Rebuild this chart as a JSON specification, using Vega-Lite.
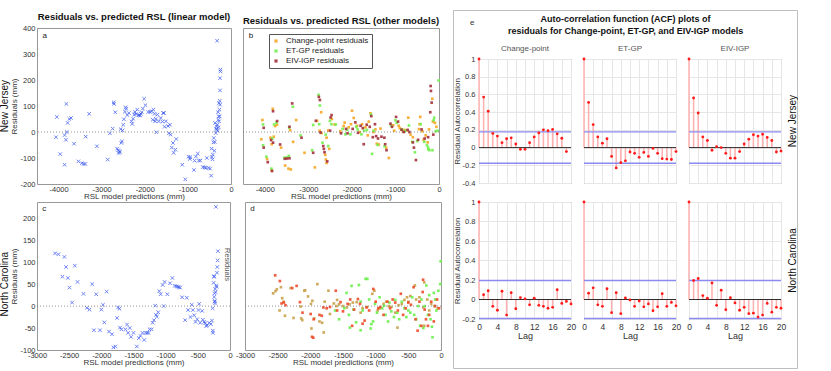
{
"$schema": "https://vega.github.io/schema/vega-lite/v6.json",
"autosize": {"type": "pad"},
"padding": {"left": 0, "top": 9, "right": 0, "bottom": 0},
"config": {
 "font": "Liberation Sans",
 "locale": {"number": {"decimal": ".", "thousands": "", "grouping": [3], "currency": ["$", ""], "minus": "-"}},
 "view": {"stroke": "#999", "strokeWidth": 1},
 "axis": {"labelFontSize": 7.5, "titleFontSize": 8, "labelColor": "#333", "titleColor": "#333", "titleFontWeight": "normal", "domain": false, "ticks": false, "grid": false, "labelPadding": 2, "titlePadding": 1, "labelFlush": false, "labelOverlap": false},
 "axisX": {"labelPadding": 1, "titlePadding": 0},
 "title": {"fontSize": 9.5, "fontWeight": "bold", "color": "#111", "offset": 3},
 "header": {"labelFontSize": 8, "labelColor": "#444"}
},
"datasets": {
 "linNJ": [
{"pred":-4060,"resid":-20},{"pred":-4040,"resid":58},{"pred":-3960,"resid":-85},{"pred":-3860,"resid":-126},{"pred":-3860,"resid":-12},{"pred":-3820,"resid":108},{"pred":-3830,"resid":-30},{"pred":-3810,"resid":0},{"pred":-3790,"resid":35},{"pred":-3750,"resid":50},{"pred":-3710,"resid":54},{"pred":-3640,"resid":-45},{"pred":-3540,"resid":-113},{"pred":-3460,"resid":-120},{"pred":-3420,"resid":-123},{"pred":-3380,"resid":-123},{"pred":-3370,"resid":-18},{"pred":-3290,"resid":70},{"pred":-3110,"resid":-55},{"pred":-2860,"resid":-106},{"pred":-2810,"resid":-5},{"pred":-2745,"resid":13},{"pred":-2720,"resid":114},{"pred":-2715,"resid":108},{"pred":-2685,"resid":76},{"pred":-2640,"resid":-64},{"pred":-2615,"resid":-70},{"pred":-2607,"resid":-81},{"pred":-2590,"resid":-74},{"pred":-2575,"resid":-78},{"pred":-2560,"resid":11},{"pred":-2545,"resid":-42},{"pred":-2530,"resid":-36},{"pred":-2515,"resid":6},{"pred":-2500,"resid":28},{"pred":-2485,"resid":49},{"pred":-2460,"resid":78},{"pred":-2445,"resid":95},{"pred":-2430,"resid":90},{"pred":-2405,"resid":65},{"pred":-2370,"resid":73},{"pred":-2307,"resid":41},{"pred":-2290,"resid":31},{"pred":-2270,"resid":51},{"pred":-2245,"resid":67},{"pred":-2230,"resid":77},{"pred":-2210,"resid":69},{"pred":-2175,"resid":86},{"pred":-2150,"resid":64},{"pred":-2130,"resid":65},{"pred":-2107,"resid":64},{"pred":-2090,"resid":70},{"pred":-2070,"resid":76},{"pred":-2045,"resid":90},{"pred":-2015,"resid":128},{"pred":-1985,"resid":103},{"pred":-1920,"resid":77},{"pred":-1875,"resid":77},{"pred":-1840,"resid":80},{"pred":-1815,"resid":47},{"pred":-1800,"resid":86},{"pred":-1775,"resid":70},{"pred":-1760,"resid":41},{"pred":-1745,"resid":50},{"pred":-1730,"resid":-1},{"pred":-1707,"resid":67},{"pred":-1675,"resid":41},{"pred":-1630,"resid":54},{"pred":-1590,"resid":40},{"pred":-1575,"resid":73},{"pred":-1555,"resid":73},{"pred":-1540,"resid":20},{"pred":-1510,"resid":41},{"pred":-1460,"resid":23},{"pred":-1440,"resid":-5},{"pred":-1415,"resid":28},{"pred":-1400,"resid":-10},{"pred":-1375,"resid":-60},{"pred":-1345,"resid":-42},{"pred":-1330,"resid":-80},{"pred":-1290,"resid":-68},{"pred":-1270,"resid":-27},{"pred":-1130,"resid":-126},{"pred":-1060,"resid":-182},{"pred":-985,"resid":-95},{"pred":-955,"resid":-104},{"pred":-945,"resid":-97},{"pred":-860,"resid":-146},{"pred":-845,"resid":-110},{"pred":-815,"resid":-94},{"pred":-770,"resid":-83},{"pred":-745,"resid":-110},{"pred":-710,"resid":-110},{"pred":-655,"resid":-135},{"pred":-615,"resid":-136},{"pred":-585,"resid":-138},{"pred":-560,"resid":-100},{"pred":-523,"resid":-138},{"pred":-485,"resid":-141},{"pred":-460,"resid":-168},{"pred":-453,"resid":-64},{"pred":-445,"resid":-96},{"pred":-430,"resid":-105},{"pred":-422,"resid":-87},{"pred":-407,"resid":-40},{"pred":-400,"resid":-23},{"pred":-385,"resid":-72},{"pred":-377,"resid":-38},{"pred":-370,"resid":35},{"pred":-354,"resid":-4},{"pred":-346,"resid":13},{"pred":-338,"resid":22},{"pred":-330,"resid":9},{"pred":-323,"resid":351},{"pred":-315,"resid":28},{"pred":-308,"resid":5},{"pred":-300,"resid":76},{"pred":-292,"resid":47},{"pred":-285,"resid":60},{"pred":-277,"resid":111},{"pred":-269,"resid":86},{"pred":-262,"resid":120},{"pred":-254,"resid":105},{"pred":-254,"resid":160},{"pred":-246,"resid":240},{"pred":-246,"resid":233},{"pred":-254,"resid":207},{"pred":-262,"resid":60},{"pred":-277,"resid":41},{"pred":-285,"resid":18}
 ],
 "linNC": [
{"pred":-2720,"resid":120},{"pred":-2667,"resid":118},{"pred":-2605,"resid":67},{"pred":-2574,"resid":112},{"pred":-2548,"resid":89},{"pred":-2521,"resid":64},{"pred":-2495,"resid":42},{"pred":-2454,"resid":8},{"pred":-2412,"resid":92},{"pred":-2370,"resid":55},{"pred":-2277,"resid":28},{"pred":-2225,"resid":-4},{"pred":-2183,"resid":-8},{"pred":-2141,"resid":50},{"pred":-2115,"resid":-55},{"pred":-2079,"resid":27},{"pred":-2021,"resid":-55},{"pred":-2000,"resid":-8},{"pred":-1974,"resid":3},{"pred":-1953,"resid":-37},{"pred":-1917,"resid":33},{"pred":-1881,"resid":-58},{"pred":-1834,"resid":-64},{"pred":-1813,"resid":-94},{"pred":-1782,"resid":-92},{"pred":-1755,"resid":-27},{"pred":-1740,"resid":-3},{"pred":-1719,"resid":-6},{"pred":-1709,"resid":-49},{"pred":-1688,"resid":-53},{"pred":-1625,"resid":-53},{"pred":-1600,"resid":-42},{"pred":-1584,"resid":-61},{"pred":-1558,"resid":-50},{"pred":-1537,"resid":-70},{"pred":-1500,"resid":-61},{"pred":-1448,"resid":-92},{"pred":-1417,"resid":-73},{"pred":-1391,"resid":-68},{"pred":-1360,"resid":-61},{"pred":-1333,"resid":-77},{"pred":-1313,"resid":-61},{"pred":-1287,"resid":-61},{"pred":-1266,"resid":-61},{"pred":-1250,"resid":-53},{"pred":-1219,"resid":-53},{"pred":-1203,"resid":-38},{"pred":-1183,"resid":-32},{"pred":-1162,"resid":1},{"pred":-1151,"resid":-20},{"pred":-1136,"resid":-24},{"pred":-1115,"resid":-14},{"pred":-1099,"resid":34},{"pred":-1078,"resid":27},{"pred":-1047,"resid":48},{"pred":-1031,"resid":0},{"pred":-1016,"resid":55},{"pred":-974,"resid":27},{"pred":-932,"resid":52},{"pred":-896,"resid":64},{"pred":-860,"resid":46},{"pred":-833,"resid":45},{"pred":-813,"resid":44},{"pred":-792,"resid":43},{"pred":-776,"resid":42},{"pred":-745,"resid":20},{"pred":-698,"resid":-32},{"pred":-672,"resid":19},{"pred":-651,"resid":-9},{"pred":-615,"resid":-25},{"pred":-594,"resid":3},{"pred":-578,"resid":-9},{"pred":-557,"resid":-21},{"pred":-536,"resid":-36},{"pred":-510,"resid":-30},{"pred":-490,"resid":-9},{"pred":-479,"resid":5},{"pred":-464,"resid":-38},{"pred":-432,"resid":-11},{"pred":-422,"resid":-31},{"pred":-401,"resid":-36},{"pred":-385,"resid":-39},{"pred":-370,"resid":-45},{"pred":-354,"resid":-44},{"pred":-323,"resid":-38},{"pred":-297,"resid":-41},{"pred":-281,"resid":-33},{"pred":-271,"resid":-5},{"pred":-266,"resid":-56},{"pred":-266,"resid":-61},{"pred":-255,"resid":53},{"pred":-250,"resid":67},{"pred":-245,"resid":21},{"pred":-240,"resid":29},{"pred":-234,"resid":12},{"pred":-234,"resid":6},{"pred":-229,"resid":39},{"pred":-224,"resid":32},{"pred":-219,"resid":226},{"pred":-214,"resid":47},{"pred":-208,"resid":44},{"pred":-203,"resid":76},{"pred":-198,"resid":89},{"pred":-193,"resid":104},{"pred":-188,"resid":125},{"pred":-245,"resid":68},{"pred":-240,"resid":10}
 ],
 "othNJ": [
{"model":"Change-point residuals","pred":-4055,"resid":46},{"model":"Change-point residuals","pred":-4078,"resid":-28},{"model":"Change-point residuals","pred":-3948,"resid":-104},{"model":"Change-point residuals","pred":-3840,"resid":-148},{"model":"Change-point residuals","pred":-3870,"resid":-22},{"model":"Change-point residuals","pred":-3840,"resid":-47},{"model":"Change-point residuals","pred":-3794,"resid":-18},{"model":"Change-point residuals","pred":-3817,"resid":89},{"model":"Change-point residuals","pred":-3763,"resid":23},{"model":"Change-point residuals","pred":-3720,"resid":28},{"model":"Change-point residuals","pred":-3625,"resid":-60},{"model":"Change-point residuals","pred":-3533,"resid":-129},{"model":"Change-point residuals","pred":-3456,"resid":-141},{"model":"Change-point residuals","pred":-3402,"resid":-144},{"model":"Change-point residuals","pred":-3418,"resid":7},{"model":"Change-point residuals","pred":-3348,"resid":-38},{"model":"Change-point residuals","pred":-3279,"resid":46},{"model":"Change-point residuals","pred":-3088,"resid":-80},{"model":"Change-point residuals","pred":-2850,"resid":-136},{"model":"Change-point residuals","pred":-2800,"resid":43},{"model":"Change-point residuals","pred":-2705,"resid":76},{"model":"Change-point residuals","pred":-2740,"resid":5},{"model":"Change-point residuals","pred":-2697,"resid":-4},{"model":"Change-point residuals","pred":-2612,"resid":-88},{"model":"Change-point residuals","pred":-2597,"resid":-106},{"model":"Change-point residuals","pred":-2582,"resid":-119},{"model":"Change-point residuals","pred":-2582,"resid":-22},{"model":"Change-point residuals","pred":-2520,"resid":-65},{"model":"Change-point residuals","pred":-2460,"resid":50},{"model":"Change-point residuals","pred":-2397,"resid":29},{"model":"Change-point residuals","pred":-2543,"resid":6},{"model":"Change-point residuals","pred":-2266,"resid":3},{"model":"Change-point residuals","pred":-2189,"resid":23},{"model":"Change-point residuals","pred":-2166,"resid":36},{"model":"Change-point residuals","pred":-2074,"resid":18},{"model":"Change-point residuals","pred":-2020,"resid":30},{"model":"Change-point residuals","pred":-1997,"resid":82},{"model":"Change-point residuals","pred":-1958,"resid":54},{"model":"Change-point residuals","pred":-1882,"resid":24},{"model":"Change-point residuals","pred":-1820,"resid":0},{"model":"Change-point residuals","pred":-1766,"resid":30},{"model":"Change-point residuals","pred":-1689,"resid":18},{"model":"Change-point residuals","pred":-1636,"resid":-13},{"model":"Change-point residuals","pred":-1612,"resid":40},{"model":"Change-point residuals","pred":-1574,"resid":72},{"model":"Change-point residuals","pred":-1505,"resid":0},{"model":"Change-point residuals","pred":-1460,"resid":10},{"model":"Change-point residuals","pred":-1428,"resid":-45},{"model":"Change-point residuals","pred":-1382,"resid":-48},{"model":"Change-point residuals","pred":-1344,"resid":13},{"model":"Change-point residuals","pred":-1213,"resid":-60},{"model":"Change-point residuals","pred":-1152,"resid":-100},{"model":"Change-point residuals","pred":-1052,"resid":26},{"model":"Change-point residuals","pred":-1030,"resid":5},{"model":"Change-point residuals","pred":-925,"resid":24},{"model":"Change-point residuals","pred":-900,"resid":15},{"model":"Change-point residuals","pred":-830,"resid":2},{"model":"Change-point residuals","pred":-795,"resid":8},{"model":"Change-point residuals","pred":-745,"resid":6},{"model":"Change-point residuals","pred":-706,"resid":55},{"model":"Change-point residuals","pred":-653,"resid":-10},{"model":"Change-point residuals","pred":-600,"resid":-20},{"model":"Change-point residuals","pred":-461,"resid":11},{"model":"Change-point residuals","pred":-445,"resid":30},{"model":"Change-point residuals","pred":-430,"resid":58},{"model":"Change-point residuals","pred":-384,"resid":3},{"model":"Change-point residuals","pred":-353,"resid":-30},{"model":"Change-point residuals","pred":-307,"resid":-13},{"model":"Change-point residuals","pred":-260,"resid":-40},{"model":"Change-point residuals","pred":-230,"resid":10},{"model":"Change-point residuals","pred":-154,"resid":128},{"model":"Change-point residuals","pred":-140,"resid":40},{"model":"Change-point residuals","pred":-93,"resid":35},{"model":"Change-point residuals","pred":-60,"resid":20},
{"model":"ET-GP residuals","pred":-4040,"resid":29},{"model":"ET-GP residuals","pred":-4040,"resid":-51},{"model":"ET-GP residuals","pred":-3963,"resid":-95},{"model":"ET-GP residuals","pred":-3848,"resid":-141},{"model":"ET-GP residuals","pred":-3825,"resid":-25},{"model":"ET-GP residuals","pred":-3786,"resid":29},{"model":"ET-GP residuals","pred":-3733,"resid":36},{"model":"ET-GP residuals","pred":-3548,"resid":-99},{"model":"ET-GP residuals","pred":-3502,"resid":-98},{"model":"ET-GP residuals","pred":-3448,"resid":-92},{"model":"ET-GP residuals","pred":-3440,"resid":17},{"model":"ET-GP residuals","pred":-3356,"resid":97},{"model":"ET-GP residuals","pred":-3180,"resid":-13},{"model":"ET-GP residuals","pred":-2912,"resid":-70},{"model":"ET-GP residuals","pred":-2889,"resid":27},{"model":"ET-GP residuals","pred":-2766,"resid":143},{"model":"ET-GP residuals","pred":-2735,"resid":102},{"model":"ET-GP residuals","pred":-2750,"resid":30},{"model":"ET-GP residuals","pred":-2674,"resid":-41},{"model":"ET-GP residuals","pred":-2600,"resid":-10},{"model":"ET-GP residuals","pred":-2543,"resid":-54},{"model":"ET-GP residuals","pred":-2505,"resid":43},{"model":"ET-GP residuals","pred":-2470,"resid":30},{"model":"ET-GP residuals","pred":-2370,"resid":29},{"model":"ET-GP residuals","pred":-2212,"resid":12},{"model":"ET-GP residuals","pred":-2150,"resid":-9},{"model":"ET-GP residuals","pred":-2110,"resid":8},{"model":"ET-GP residuals","pred":-2035,"resid":-9},{"model":"ET-GP residuals","pred":-1900,"resid":20},{"model":"ET-GP residuals","pred":-1870,"resid":10},{"model":"ET-GP residuals","pred":-1781,"resid":-9},{"model":"ET-GP residuals","pred":-1720,"resid":5},{"model":"ET-GP residuals","pred":-1655,"resid":8},{"model":"ET-GP residuals","pred":-1560,"resid":68},{"model":"ET-GP residuals","pred":-1500,"resid":5},{"model":"ET-GP residuals","pred":-1536,"resid":-84},{"model":"ET-GP residuals","pred":-1410,"resid":-50},{"model":"ET-GP residuals","pred":-1250,"resid":-55},{"model":"ET-GP residuals","pred":-1100,"resid":25},{"model":"ET-GP residuals","pred":-1001,"resid":45},{"model":"ET-GP residuals","pred":-970,"resid":35},{"model":"ET-GP residuals","pred":-860,"resid":10},{"model":"ET-GP residuals","pred":-783,"resid":5},{"model":"ET-GP residuals","pred":-690,"resid":25},{"model":"ET-GP residuals","pred":-614,"resid":-38},{"model":"ET-GP residuals","pred":-553,"resid":-78},{"model":"ET-GP residuals","pred":-500,"resid":-35},{"model":"ET-GP residuals","pred":-420,"resid":30},{"model":"ET-GP residuals","pred":-338,"resid":-38},{"model":"ET-GP residuals","pred":-276,"resid":-51},{"model":"ET-GP residuals","pred":-250,"resid":-60},{"model":"ET-GP residuals","pred":-246,"resid":-67},{"model":"ET-GP residuals","pred":-220,"resid":-70},{"model":"ET-GP residuals","pred":-150,"resid":-70},{"model":"ET-GP residuals","pred":-123,"resid":45},{"model":"ET-GP residuals","pred":-110,"resid":55},{"model":"ET-GP residuals","pred":-77,"resid":3},{"model":"ET-GP residuals","pred":-30,"resid":5},{"model":"ET-GP residuals","pred":-10,"resid":198},
{"model":"EIV-IGP residuals","pred":-4025,"resid":16},{"model":"EIV-IGP residuals","pred":-4025,"resid":-60},{"model":"EIV-IGP residuals","pred":-3932,"resid":-116},{"model":"EIV-IGP residuals","pred":-3833,"resid":-150},{"model":"EIV-IGP residuals","pred":-3855,"resid":-31},{"model":"EIV-IGP residuals","pred":-3810,"resid":-41},{"model":"EIV-IGP residuals","pred":-3810,"resid":80},{"model":"EIV-IGP residuals","pred":-3717,"resid":42},{"model":"EIV-IGP residuals","pred":-3648,"resid":-48},{"model":"EIV-IGP residuals","pred":-3540,"resid":-103},{"model":"EIV-IGP residuals","pred":-3487,"resid":-102},{"model":"EIV-IGP residuals","pred":-3433,"resid":-101},{"model":"EIV-IGP residuals","pred":-3433,"resid":20},{"model":"EIV-IGP residuals","pred":-3371,"resid":110},{"model":"EIV-IGP residuals","pred":-3157,"resid":-22},{"model":"EIV-IGP residuals","pred":-2889,"resid":-80},{"model":"EIV-IGP residuals","pred":-2827,"resid":43},{"model":"EIV-IGP residuals","pred":-2758,"resid":135},{"model":"EIV-IGP residuals","pred":-2735,"resid":123},{"model":"EIV-IGP residuals","pred":-2720,"resid":-2},{"model":"EIV-IGP residuals","pred":-2658,"resid":-54},{"model":"EIV-IGP residuals","pred":-2643,"resid":-65},{"model":"EIV-IGP residuals","pred":-2628,"resid":-78},{"model":"EIV-IGP residuals","pred":-2566,"resid":-113},{"model":"EIV-IGP residuals","pred":-2489,"resid":56},{"model":"EIV-IGP residuals","pred":-2466,"resid":65},{"model":"EIV-IGP residuals","pred":-2500,"resid":5},{"model":"EIV-IGP residuals","pred":-2250,"resid":-5},{"model":"EIV-IGP residuals","pred":-2135,"resid":12},{"model":"EIV-IGP residuals","pred":-2100,"resid":-5},{"model":"EIV-IGP residuals","pred":-1982,"resid":12},{"model":"EIV-IGP residuals","pred":-1920,"resid":37},{"model":"EIV-IGP residuals","pred":-1860,"resid":-3},{"model":"EIV-IGP residuals","pred":-1800,"resid":24},{"model":"EIV-IGP residuals","pred":-1750,"resid":15},{"model":"EIV-IGP residuals","pred":-1728,"resid":-47},{"model":"EIV-IGP residuals","pred":-1660,"resid":28},{"model":"EIV-IGP residuals","pred":-1590,"resid":20},{"model":"EIV-IGP residuals","pred":-1555,"resid":61},{"model":"EIV-IGP residuals","pred":-1520,"resid":-20},{"model":"EIV-IGP residuals","pred":-1470,"resid":30},{"model":"EIV-IGP residuals","pred":-1443,"resid":-16},{"model":"EIV-IGP residuals","pred":-1400,"resid":-25},{"model":"EIV-IGP residuals","pred":-1321,"resid":-18},{"model":"EIV-IGP residuals","pred":-1254,"resid":-22},{"model":"EIV-IGP residuals","pred":-1236,"resid":-47},{"model":"EIV-IGP residuals","pred":-1205,"resid":-70},{"model":"EIV-IGP residuals","pred":-1114,"resid":32},{"model":"EIV-IGP residuals","pred":-1080,"resid":20},{"model":"EIV-IGP residuals","pred":-986,"resid":58},{"model":"EIV-IGP residuals","pred":-940,"resid":40},{"model":"EIV-IGP residuals","pred":-860,"resid":9},{"model":"EIV-IGP residuals","pred":-810,"resid":0},{"model":"EIV-IGP residuals","pred":-720,"resid":8},{"model":"EIV-IGP residuals","pred":-680,"resid":0},{"model":"EIV-IGP residuals","pred":-600,"resid":-40},{"model":"EIV-IGP residuals","pred":-576,"resid":-60},{"model":"EIV-IGP residuals","pred":-530,"resid":-108},{"model":"EIV-IGP residuals","pred":-480,"resid":-30},{"model":"EIV-IGP residuals","pred":-400,"resid":10},{"model":"EIV-IGP residuals","pred":-330,"resid":-25},{"model":"EIV-IGP residuals","pred":-250,"resid":-20},{"model":"EIV-IGP residuals","pred":-200,"resid":76},{"model":"EIV-IGP residuals","pred":-192,"resid":177},{"model":"EIV-IGP residuals","pred":-184,"resid":158},{"model":"EIV-IGP residuals","pred":-169,"resid":113},{"model":"EIV-IGP residuals","pred":-130,"resid":-10}
 ],
 "othNC": [
{"model":"Change-point residuals","pred":-2569,"resid":29},{"model":"Change-point residuals","pred":-2533,"resid":34},{"model":"Change-point residuals","pred":-2513,"resid":38},{"model":"Change-point residuals","pred":-2450,"resid":43},{"model":"Change-point residuals","pred":-2430,"resid":18},{"model":"Change-point residuals","pred":-2410,"resid":10},{"model":"Change-point residuals","pred":-2471,"resid":-10},{"model":"Change-point residuals","pred":-2389,"resid":-22},{"model":"Change-point residuals","pred":-2302,"resid":41},{"model":"Change-point residuals","pred":-2257,"resid":-27},{"model":"Change-point residuals","pred":-2148,"resid":-1},{"model":"Change-point residuals","pred":-2123,"resid":-32},{"model":"Change-point residuals","pred":-2140,"resid":-28},{"model":"Change-point residuals","pred":-2092,"resid":35},{"model":"Change-point residuals","pred":-2080,"resid":36},{"model":"Change-point residuals","pred":-2035,"resid":22},{"model":"Change-point residuals","pred":-1990,"resid":5},{"model":"Change-point residuals","pred":-1983,"resid":-51},{"model":"Change-point residuals","pred":-1969,"resid":12},{"model":"Change-point residuals","pred":-1940,"resid":-28},{"model":"Change-point residuals","pred":-1892,"resid":50},{"model":"Change-point residuals","pred":-1860,"resid":-35},{"model":"Change-point residuals","pred":-1820,"resid":-38},{"model":"Change-point residuals","pred":-1795,"resid":-60},{"model":"Change-point residuals","pred":-1780,"resid":10},{"model":"Change-point residuals","pred":-1723,"resid":35},{"model":"Change-point residuals","pred":-1700,"resid":-18},{"model":"Change-point residuals","pred":-1640,"resid":6},{"model":"Change-point residuals","pred":-1600,"resid":0},{"model":"Change-point residuals","pred":-1590,"resid":14},{"model":"Change-point residuals","pred":-1560,"resid":4},{"model":"Change-point residuals","pred":-1500,"resid":0},{"model":"Change-point residuals","pred":-1440,"resid":-3},{"model":"Change-point residuals","pred":-1400,"resid":4},{"model":"Change-point residuals","pred":-1350,"resid":8},{"model":"Change-point residuals","pred":-1290,"resid":9},{"model":"Change-point residuals","pred":-1230,"resid":-15},{"model":"Change-point residuals","pred":-1200,"resid":-5},{"model":"Change-point residuals","pred":-1130,"resid":-2},{"model":"Change-point residuals","pred":-1051,"resid":28},{"model":"Change-point residuals","pred":-1020,"resid":35},{"model":"Change-point residuals","pred":-970,"resid":-10},{"model":"Change-point residuals","pred":-940,"resid":-5},{"model":"Change-point residuals","pred":-880,"resid":5},{"model":"Change-point residuals","pred":-840,"resid":10},{"model":"Change-point residuals","pred":-800,"resid":0},{"model":"Change-point residuals","pred":-760,"resid":-2},{"model":"Change-point residuals","pred":-700,"resid":-15},{"model":"Change-point residuals","pred":-666,"resid":-49},{"model":"Change-point residuals","pred":-650,"resid":2},{"model":"Change-point residuals","pred":-600,"resid":5},{"model":"Change-point residuals","pred":-560,"resid":14},{"model":"Change-point residuals","pred":-520,"resid":20},{"model":"Change-point residuals","pred":-500,"resid":10},{"model":"Change-point residuals","pred":-470,"resid":23},{"model":"Change-point residuals","pred":-400,"resid":47},{"model":"Change-point residuals","pred":-380,"resid":15},{"model":"Change-point residuals","pred":-330,"resid":20},{"model":"Change-point residuals","pred":-270,"resid":-3},{"model":"Change-point residuals","pred":-256,"resid":54},{"model":"Change-point residuals","pred":-256,"resid":-45},{"model":"Change-point residuals","pred":-210,"resid":15},{"model":"Change-point residuals","pred":-180,"resid":-10},{"model":"Change-point residuals","pred":-150,"resid":5},{"model":"Change-point residuals","pred":-100,"resid":0},{"model":"Change-point residuals","pred":-50,"resid":-5},
{"model":"ET-GP residuals","pred":-1620,"resid":-10},{"model":"ET-GP residuals","pred":-1560,"resid":-30},{"model":"ET-GP residuals","pred":-1480,"resid":-5},{"model":"ET-GP residuals","pred":-1446,"resid":30},{"model":"ET-GP residuals","pred":-1410,"resid":-20},{"model":"ET-GP residuals","pred":-1395,"resid":-49},{"model":"ET-GP residuals","pred":-1369,"resid":46},{"model":"ET-GP residuals","pred":-1340,"resid":-8},{"model":"ET-GP residuals","pred":-1300,"resid":-37},{"model":"ET-GP residuals","pred":-1256,"resid":48},{"model":"ET-GP residuals","pred":-1231,"resid":-55},{"model":"ET-GP residuals","pred":-1230,"resid":10},{"model":"ET-GP residuals","pred":-1200,"resid":-10},{"model":"ET-GP residuals","pred":-1154,"resid":62},{"model":"ET-GP residuals","pred":-1128,"resid":62},{"model":"ET-GP residuals","pred":-1100,"resid":15},{"model":"ET-GP residuals","pred":-1077,"resid":-51},{"model":"ET-GP residuals","pred":-1066,"resid":-41},{"model":"ET-GP residuals","pred":-1040,"resid":-35},{"model":"ET-GP residuals","pred":-1010,"resid":5},{"model":"ET-GP residuals","pred":-980,"resid":-15},{"model":"ET-GP residuals","pred":-940,"resid":20},{"model":"ET-GP residuals","pred":-900,"resid":-5},{"model":"ET-GP residuals","pred":-872,"resid":1},{"model":"ET-GP residuals","pred":-850,"resid":-20},{"model":"ET-GP residuals","pred":-810,"resid":-35},{"model":"ET-GP residuals","pred":-790,"resid":8},{"model":"ET-GP residuals","pred":-760,"resid":-12},{"model":"ET-GP residuals","pred":-720,"resid":-25},{"model":"ET-GP residuals","pred":-700,"resid":14},{"model":"ET-GP residuals","pred":-670,"resid":-15},{"model":"ET-GP residuals","pred":-640,"resid":-30},{"model":"ET-GP residuals","pred":-600,"resid":10},{"model":"ET-GP residuals","pred":-560,"resid":-5},{"model":"ET-GP residuals","pred":-530,"resid":-25},{"model":"ET-GP residuals","pred":-500,"resid":-10},{"model":"ET-GP residuals","pred":-470,"resid":-15},{"model":"ET-GP residuals","pred":-440,"resid":20},{"model":"ET-GP residuals","pred":-410,"resid":-20},{"model":"ET-GP residuals","pred":-380,"resid":-30},{"model":"ET-GP residuals","pred":-350,"resid":0},{"model":"ET-GP residuals","pred":-320,"resid":-45},{"model":"ET-GP residuals","pred":-300,"resid":15},{"model":"ET-GP residuals","pred":-270,"resid":-50},{"model":"ET-GP residuals","pred":-250,"resid":0},{"model":"ET-GP residuals","pred":-225,"resid":47},{"model":"ET-GP residuals","pred":-200,"resid":-20},{"model":"ET-GP residuals","pred":-180,"resid":25},{"model":"ET-GP residuals","pred":-160,"resid":-30},{"model":"ET-GP residuals","pred":-138,"resid":-47},{"model":"ET-GP residuals","pred":-130,"resid":-71},{"model":"ET-GP residuals","pred":-110,"resid":30},{"model":"ET-GP residuals","pred":-90,"resid":15},{"model":"ET-GP residuals","pred":-70,"resid":-10},{"model":"ET-GP residuals","pred":-40,"resid":35},{"model":"ET-GP residuals","pred":-12,"resid":50},{"model":"ET-GP residuals","pred":-5,"resid":102},
{"model":"EIV-IGP residuals","pred":-2538,"resid":70},{"model":"EIV-IGP residuals","pred":-2466,"resid":57},{"model":"EIV-IGP residuals","pred":-2440,"resid":6},{"model":"EIV-IGP residuals","pred":-2405,"resid":8},{"model":"EIV-IGP residuals","pred":-2380,"resid":2},{"model":"EIV-IGP residuals","pred":-2277,"resid":41},{"model":"EIV-IGP residuals","pred":-2210,"resid":46},{"model":"EIV-IGP residuals","pred":-2159,"resid":9},{"model":"EIV-IGP residuals","pred":-2120,"resid":-15},{"model":"EIV-IGP residuals","pred":-1995,"resid":-18},{"model":"EIV-IGP residuals","pred":-1974,"resid":-70},{"model":"EIV-IGP residuals","pred":-1955,"resid":-72},{"model":"EIV-IGP residuals","pred":-1949,"resid":-30},{"model":"EIV-IGP residuals","pred":-1860,"resid":-20},{"model":"EIV-IGP residuals","pred":-1825,"resid":-22},{"model":"EIV-IGP residuals","pred":-1800,"resid":-3},{"model":"EIV-IGP residuals","pred":-1750,"resid":-5},{"model":"EIV-IGP residuals","pred":-1700,"resid":-2},{"model":"EIV-IGP residuals","pred":-1610,"resid":35},{"model":"EIV-IGP residuals","pred":-1590,"resid":-10},{"model":"EIV-IGP residuals","pred":-1538,"resid":9},{"model":"EIV-IGP residuals","pred":-1500,"resid":-12},{"model":"EIV-IGP residuals","pred":-1430,"resid":5},{"model":"EIV-IGP residuals","pred":-1390,"resid":15},{"model":"EIV-IGP residuals","pred":-1360,"resid":-45},{"model":"EIV-IGP residuals","pred":-1330,"resid":-8},{"model":"EIV-IGP residuals","pred":-1272,"resid":16},{"model":"EIV-IGP residuals","pred":-1240,"resid":5},{"model":"EIV-IGP residuals","pred":-1200,"resid":-40},{"model":"EIV-IGP residuals","pred":-1169,"resid":-33},{"model":"EIV-IGP residuals","pred":-1140,"resid":-3},{"model":"EIV-IGP residuals","pred":-1100,"resid":-10},{"model":"EIV-IGP residuals","pred":-1036,"resid":39},{"model":"EIV-IGP residuals","pred":-1000,"resid":10},{"model":"EIV-IGP residuals","pred":-960,"resid":-5},{"model":"EIV-IGP residuals","pred":-930,"resid":-2},{"model":"EIV-IGP residuals","pred":-880,"resid":-20},{"model":"EIV-IGP residuals","pred":-820,"resid":10},{"model":"EIV-IGP residuals","pred":-780,"resid":-5},{"model":"EIV-IGP residuals","pred":-740,"resid":15},{"model":"EIV-IGP residuals","pred":-700,"resid":8},{"model":"EIV-IGP residuals","pred":-660,"resid":-10},{"model":"EIV-IGP residuals","pred":-615,"resid":28},{"model":"EIV-IGP residuals","pred":-580,"resid":-20},{"model":"EIV-IGP residuals","pred":-540,"resid":-5},{"model":"EIV-IGP residuals","pred":-500,"resid":8},{"model":"EIV-IGP residuals","pred":-460,"resid":3},{"model":"EIV-IGP residuals","pred":-419,"resid":43},{"model":"EIV-IGP residuals","pred":-390,"resid":-30},{"model":"EIV-IGP residuals","pred":-358,"resid":-56},{"model":"EIV-IGP residuals","pred":-330,"resid":10},{"model":"EIV-IGP residuals","pred":-300,"resid":-45},{"model":"EIV-IGP residuals","pred":-280,"resid":32},{"model":"EIV-IGP residuals","pred":-274,"resid":60},{"model":"EIV-IGP residuals","pred":-250,"resid":-8},{"model":"EIV-IGP residuals","pred":-230,"resid":-30},{"model":"EIV-IGP residuals","pred":-200,"resid":-45},{"model":"EIV-IGP residuals","pred":-180,"resid":-20},{"model":"EIV-IGP residuals","pred":-150,"resid":10},{"model":"EIV-IGP residuals","pred":-110,"resid":-35},{"model":"EIV-IGP residuals","pred":-90,"resid":0},{"model":"EIV-IGP residuals","pred":-60,"resid":15},{"model":"EIV-IGP residuals","pred":-30,"resid":-5}
 ],
 "acfNJ": [
{"state":"New Jersey","model":"Change-point","lag":0,"acf":1},{"state":"New Jersey","model":"Change-point","lag":1,"acf":0.57},{"state":"New Jersey","model":"Change-point","lag":2,"acf":0.41},{"state":"New Jersey","model":"Change-point","lag":3,"acf":0.16},{"state":"New Jersey","model":"Change-point","lag":4,"acf":0.13},{"state":"New Jersey","model":"Change-point","lag":5,"acf":0.055},{"state":"New Jersey","model":"Change-point","lag":6,"acf":0.1},{"state":"New Jersey","model":"Change-point","lag":7,"acf":0.11},{"state":"New Jersey","model":"Change-point","lag":8,"acf":0.04},{"state":"New Jersey","model":"Change-point","lag":9,"acf":-0.02},{"state":"New Jersey","model":"Change-point","lag":10,"acf":-0.02},{"state":"New Jersey","model":"Change-point","lag":11,"acf":0.055},{"state":"New Jersey","model":"Change-point","lag":12,"acf":0.12},{"state":"New Jersey","model":"Change-point","lag":13,"acf":0.165},{"state":"New Jersey","model":"Change-point","lag":14,"acf":0.2},{"state":"New Jersey","model":"Change-point","lag":15,"acf":0.19},{"state":"New Jersey","model":"Change-point","lag":16,"acf":0.205},{"state":"New Jersey","model":"Change-point","lag":17,"acf":0.155},{"state":"New Jersey","model":"Change-point","lag":18,"acf":0.105},{"state":"New Jersey","model":"Change-point","lag":19,"acf":-0.045},
{"state":"New Jersey","model":"ET-GP","lag":0,"acf":1},{"state":"New Jersey","model":"ET-GP","lag":1,"acf":0.51},{"state":"New Jersey","model":"ET-GP","lag":2,"acf":0.26},{"state":"New Jersey","model":"ET-GP","lag":3,"acf":0.12},{"state":"New Jersey","model":"ET-GP","lag":4,"acf":0.05},{"state":"New Jersey","model":"ET-GP","lag":5,"acf":0.1},{"state":"New Jersey","model":"ET-GP","lag":6,"acf":-0.1},{"state":"New Jersey","model":"ET-GP","lag":7,"acf":-0.23},{"state":"New Jersey","model":"ET-GP","lag":8,"acf":-0.17},{"state":"New Jersey","model":"ET-GP","lag":9,"acf":-0.15},{"state":"New Jersey","model":"ET-GP","lag":10,"acf":-0.05},{"state":"New Jersey","model":"ET-GP","lag":11,"acf":-0.065},{"state":"New Jersey","model":"ET-GP","lag":12,"acf":-0.11},{"state":"New Jersey","model":"ET-GP","lag":13,"acf":-0.055},{"state":"New Jersey","model":"ET-GP","lag":14,"acf":-0.1},{"state":"New Jersey","model":"ET-GP","lag":15,"acf":-0.01},{"state":"New Jersey","model":"ET-GP","lag":16,"acf":-0.065},{"state":"New Jersey","model":"ET-GP","lag":17,"acf":-0.125},{"state":"New Jersey","model":"ET-GP","lag":18,"acf":-0.13},{"state":"New Jersey","model":"ET-GP","lag":19,"acf":-0.135},{"state":"New Jersey","model":"ET-GP","lag":20,"acf":-0.045},
{"state":"New Jersey","model":"EIV-IGP","lag":0,"acf":1},{"state":"New Jersey","model":"EIV-IGP","lag":1,"acf":0.56},{"state":"New Jersey","model":"EIV-IGP","lag":2,"acf":0.39},{"state":"New Jersey","model":"EIV-IGP","lag":3,"acf":0.12},{"state":"New Jersey","model":"EIV-IGP","lag":4,"acf":0.08},{"state":"New Jersey","model":"EIV-IGP","lag":5,"acf":-0.03},{"state":"New Jersey","model":"EIV-IGP","lag":6,"acf":0.01},{"state":"New Jersey","model":"EIV-IGP","lag":7,"acf":0.0},{"state":"New Jersey","model":"EIV-IGP","lag":8,"acf":-0.065},{"state":"New Jersey","model":"EIV-IGP","lag":9,"acf":-0.12},{"state":"New Jersey","model":"EIV-IGP","lag":10,"acf":-0.12},{"state":"New Jersey","model":"EIV-IGP","lag":11,"acf":-0.045},{"state":"New Jersey","model":"EIV-IGP","lag":12,"acf":0.04},{"state":"New Jersey","model":"EIV-IGP","lag":13,"acf":0.095},{"state":"New Jersey","model":"EIV-IGP","lag":14,"acf":0.145},{"state":"New Jersey","model":"EIV-IGP","lag":15,"acf":0.13},{"state":"New Jersey","model":"EIV-IGP","lag":16,"acf":0.15},{"state":"New Jersey","model":"EIV-IGP","lag":17,"acf":0.115},{"state":"New Jersey","model":"EIV-IGP","lag":18,"acf":0.08},{"state":"New Jersey","model":"EIV-IGP","lag":19,"acf":-0.05},{"state":"New Jersey","model":"EIV-IGP","lag":20,"acf":-0.04}
 ],
 "acfNC": [
{"state":"North Carolina","model":"Change-point","lag":0,"acf":1},{"state":"North Carolina","model":"Change-point","lag":1,"acf":0.05},{"state":"North Carolina","model":"Change-point","lag":2,"acf":0.09},{"state":"North Carolina","model":"Change-point","lag":3,"acf":-0.07},{"state":"North Carolina","model":"Change-point","lag":4,"acf":-0.11},{"state":"North Carolina","model":"Change-point","lag":5,"acf":0.085},{"state":"North Carolina","model":"Change-point","lag":6,"acf":-0.16},{"state":"North Carolina","model":"Change-point","lag":7,"acf":0.07},{"state":"North Carolina","model":"Change-point","lag":8,"acf":-0.095},{"state":"North Carolina","model":"Change-point","lag":9,"acf":0.02},{"state":"North Carolina","model":"Change-point","lag":10,"acf":0.007},{"state":"North Carolina","model":"Change-point","lag":11,"acf":-0.055},{"state":"North Carolina","model":"Change-point","lag":12,"acf":0.014},{"state":"North Carolina","model":"Change-point","lag":13,"acf":-0.06},{"state":"North Carolina","model":"Change-point","lag":14,"acf":-0.07},{"state":"North Carolina","model":"Change-point","lag":15,"acf":-0.09},{"state":"North Carolina","model":"Change-point","lag":16,"acf":-0.08},{"state":"North Carolina","model":"Change-point","lag":17,"acf":0.1},{"state":"North Carolina","model":"Change-point","lag":18,"acf":-0.04},{"state":"North Carolina","model":"Change-point","lag":19,"acf":-0.02},{"state":"North Carolina","model":"Change-point","lag":20,"acf":-0.045},
{"state":"North Carolina","model":"ET-GP","lag":0,"acf":1},{"state":"North Carolina","model":"ET-GP","lag":1,"acf":0.065},{"state":"North Carolina","model":"ET-GP","lag":2,"acf":0.12},{"state":"North Carolina","model":"ET-GP","lag":3,"acf":-0.055},{"state":"North Carolina","model":"ET-GP","lag":4,"acf":-0.07},{"state":"North Carolina","model":"ET-GP","lag":5,"acf":0.11},{"state":"North Carolina","model":"ET-GP","lag":6,"acf":-0.135},{"state":"North Carolina","model":"ET-GP","lag":7,"acf":0.07},{"state":"North Carolina","model":"ET-GP","lag":8,"acf":-0.145},{"state":"North Carolina","model":"ET-GP","lag":9,"acf":0.015},{"state":"North Carolina","model":"ET-GP","lag":10,"acf":-0.005},{"state":"North Carolina","model":"ET-GP","lag":11,"acf":-0.07},{"state":"North Carolina","model":"ET-GP","lag":12,"acf":-0.015},{"state":"North Carolina","model":"ET-GP","lag":13,"acf":-0.075},{"state":"North Carolina","model":"ET-GP","lag":14,"acf":-0.045},{"state":"North Carolina","model":"ET-GP","lag":15,"acf":-0.115},{"state":"North Carolina","model":"ET-GP","lag":16,"acf":-0.075},{"state":"North Carolina","model":"ET-GP","lag":17,"acf":0.06},{"state":"North Carolina","model":"ET-GP","lag":18,"acf":-0.07},{"state":"North Carolina","model":"ET-GP","lag":19,"acf":-0.03},{"state":"North Carolina","model":"ET-GP","lag":20,"acf":-0.065},
{"state":"North Carolina","model":"EIV-IGP","lag":0,"acf":1},{"state":"North Carolina","model":"EIV-IGP","lag":1,"acf":0.195},{"state":"North Carolina","model":"EIV-IGP","lag":2,"acf":0.215},{"state":"North Carolina","model":"EIV-IGP","lag":3,"acf":0.04},{"state":"North Carolina","model":"EIV-IGP","lag":4,"acf":0.013},{"state":"North Carolina","model":"EIV-IGP","lag":5,"acf":0.17},{"state":"North Carolina","model":"EIV-IGP","lag":6,"acf":-0.06},{"state":"North Carolina","model":"EIV-IGP","lag":7,"acf":0.095},{"state":"North Carolina","model":"EIV-IGP","lag":8,"acf":-0.105},{"state":"North Carolina","model":"EIV-IGP","lag":9,"acf":0.018},{"state":"North Carolina","model":"EIV-IGP","lag":10,"acf":-0.035},{"state":"North Carolina","model":"EIV-IGP","lag":11,"acf":-0.11},{"state":"North Carolina","model":"EIV-IGP","lag":12,"acf":-0.08},{"state":"North Carolina","model":"EIV-IGP","lag":13,"acf":-0.145},{"state":"North Carolina","model":"EIV-IGP","lag":14,"acf":-0.14},{"state":"North Carolina","model":"EIV-IGP","lag":15,"acf":-0.18},{"state":"North Carolina","model":"EIV-IGP","lag":16,"acf":-0.16},{"state":"North Carolina","model":"EIV-IGP","lag":17,"acf":-0.04},{"state":"North Carolina","model":"EIV-IGP","lag":18,"acf":-0.13},{"state":"North Carolina","model":"EIV-IGP","lag":19,"acf":-0.08},{"state":"North Carolina","model":"EIV-IGP","lag":20,"acf":-0.09}
 ]
},
"resolve": {"scale": {"color": "independent"}, "legend": {"color": "independent"}},
"spacing": 8,
"hconcat": [
 {
  "resolve": {"scale": {"color": "independent"}, "legend": {"color": "independent"}},
  "spacing": 0,
  "vconcat": [
   {"width": 1, "height": 1, "view": {"stroke": null}, "data": {"values": []}, "mark": {"type": "rule"}, "encoding": {}},
   {
    "title": {"text": "New Jersey", "orient": "left", "anchor": "middle", "fontSize": 10, "fontWeight": "normal", "color": "#111", "offset": 0},
    "resolve": {"scale": {"color": "independent"}, "legend": {"color": "independent"}},
    "spacing": 8,
    "hconcat": [
     {
      "width": 194, "height": 156,
      "title": "Residuals vs. predicted RSL (linear model)",
      "resolve": {"axis": {"x": "independent", "y": "independent"}},
      "layer": [
       {"data": {"name": "linNJ"}, "mark": {"type": "point", "shape": "M-1,-1L1,1M1,-1L-1,1", "filled": false, "color": "#3050f0", "strokeWidth": 1, "size": 12},
        "encoding": {
         "x": {"field": "pred", "type": "quantitative", "scale": {"domain": [-4500, 0], "nice": false}, "axis": {"title": "RSL model predictions (mm)", "values": [-4000, -3000, -2000, -1000, 0], "format": "d"}},
         "y": {"field": "resid", "type": "quantitative", "scale": {"domain": [-200, 400], "nice": false}, "axis": {"title": "Residuals (mm)", "values": [-200, -100, 0, 100, 200, 300, 400], "format": "d"}}
        }},
       {"data": {"values": [{"zero": 0}]}, "mark": {"type": "rule", "color": "#777", "strokeDash": [1, 2], "strokeWidth": 0.8}, "encoding": {"y": {"field": "zero", "type": "quantitative", "axis": null}}},
       {"data": {"values": [{"label": "a"}]}, "mark": {"type": "text", "fontSize": 8, "color": "#222", "align": "left"}, "encoding": {"text": {"field": "label"}, "x": {"datum": -4370, "axis": null}, "y": {"datum": 370, "axis": null}}}
      ]
     },
     {
      "width": 196, "height": 156,
      "title": "Residuals vs. predicted RSL (other models)",
      "resolve": {"axis": {"x": "independent", "y": "independent"}},
      "layer": [
       {"data": {"name": "othNJ"}, "mark": {"type": "point", "shape": "square", "filled": true, "size": 7, "opacity": 0.9},
        "encoding": {
         "x": {"field": "pred", "type": "quantitative", "scale": {"domain": [-4500, 0], "nice": false}, "axis": {"title": "RSL model predictions (mm)", "values": [-4000, -3000, -2000, -1000, 0], "format": "d"}},
         "y": {"field": "resid", "type": "quantitative", "scale": {"domain": [-200, 400], "nice": false}, "axis": {"title": null, "labels": false}},
         "color": {"field": "model", "type": "nominal", "scale": {"domain": ["Change-point residuals", "ET-GP residuals", "EIV-IGP residuals"], "range": ["#f5a623", "#74f050", "#a3303c"]},
          "legend": {"title": null, "orient": "none", "legendX": 26, "legendY": 6, "symbolType": "square", "symbolSize": 10, "labelFontSize": 8, "labelColor": "#222", "strokeColor": "#555", "fillColor": "#fff", "padding": 3, "rowPadding": 2, "labelOffset": 6}}
        }},
       {"data": {"values": [{"zero": 0}]}, "mark": {"type": "rule", "color": "#777", "strokeDash": [1, 2], "strokeWidth": 0.8}, "encoding": {"y": {"field": "zero", "type": "quantitative", "axis": null}}},
       {"data": {"values": [{"label": "b"}]}, "mark": {"type": "text", "fontSize": 8, "color": "#222", "align": "left"}, "encoding": {"text": {"field": "label"}, "x": {"datum": -4370, "axis": null}, "y": {"datum": 370, "axis": null}}}
      ]
     }
    ]
   },
   {
    "title": {"text": "North Carolina", "orient": "left", "anchor": "middle", "fontSize": 10, "fontWeight": "normal", "color": "#111", "offset": 0},
    "resolve": {"scale": {"color": "independent"}, "legend": {"color": "independent"}},
    "spacing": 1,
    "hconcat": [
     {
      "width": 193, "height": 148,
      "resolve": {"axis": {"x": "independent", "y": "independent"}},
      "layer": [
       {"data": {"name": "linNC"}, "mark": {"type": "point", "shape": "M-1,-1L1,1M1,-1L-1,1", "filled": false, "color": "#3050f0", "strokeWidth": 1, "size": 12},
        "encoding": {
         "x": {"field": "pred", "type": "quantitative", "scale": {"domain": [-3000, 0], "nice": false}, "axis": {"title": "RSL model predictions (mm)", "values": [-3000, -2500, -2000, -1500, -1000, -500, 0], "format": "d"}},
         "y": {"field": "resid", "type": "quantitative", "scale": {"domain": [-100, 237], "nice": false}, "axis": {"title": "Residuals (mm)", "values": [-100, -50, 0, 50, 100, 150, 200], "format": "d"}}
        }},
       {"data": {"values": [{"zero": 0}]}, "mark": {"type": "rule", "color": "#777", "strokeDash": [1, 2], "strokeWidth": 0.8}, "encoding": {"y": {"field": "zero", "type": "quantitative", "axis": {"orient": "right", "labels": false, "title": "Residuals", "titleAngle": 90, "titleX": -8, "titleY": 62, "titleFontSize": 7.5, "titleColor": "#555"}}}},
       {"data": {"values": [{"label": "c"}]}, "mark": {"type": "text", "fontSize": 8, "color": "#222", "align": "left"}, "encoding": {"text": {"field": "label"}, "x": {"datum": -2920, "axis": null}, "y": {"datum": 222, "axis": null}}}
      ]
     },
     {
      "width": 196, "height": 148,
      "resolve": {"axis": {"x": "independent", "y": "independent"}},
      "layer": [
       {"data": {"name": "othNC"}, "mark": {"type": "point", "shape": "square", "filled": true, "size": 7, "opacity": 0.9},
        "encoding": {
         "x": {"field": "pred", "type": "quantitative", "scale": {"domain": [-3000, 0], "nice": false}, "axis": {"title": "RSL model predictions (mm)", "values": [-3000, -2500, -2000, -1500, -1000, -500, 0], "format": "d"}},
         "y": {"field": "resid", "type": "quantitative", "scale": {"domain": [-100, 237], "nice": false}, "axis": {"title": null, "labels": false}},
         "color": {"field": "model", "type": "nominal", "scale": {"domain": ["Change-point residuals", "ET-GP residuals", "EIV-IGP residuals"], "range": ["#c9a24a", "#6cf04c", "#ee4a2a"]}, "legend": null}
        }},
       {"data": {"values": [{"zero": 0}]}, "mark": {"type": "rule", "color": "#777", "strokeDash": [1, 2], "strokeWidth": 0.8}, "encoding": {"y": {"field": "zero", "type": "quantitative", "axis": null}}},
       {"data": {"values": [{"label": "d"}]}, "mark": {"type": "text", "fontSize": 8, "color": "#222", "align": "left"}, "encoding": {"text": {"field": "label"}, "x": {"datum": -2920, "axis": null}, "y": {"datum": 222, "axis": null}}}
      ]
     }
    ]
   }
  ]
 },
 {
  "columns": 2,
  "align": "none",
  "spacing": {"column": -345, "row": 0},
  "concat": [
   {
    "width": 344, "height": 358,
    "view": {"stroke": "#bdbdbd", "strokeWidth": 1},
    "title": {"text": "e", "anchor": "start", "offset": -17, "dx": 17, "fontSize": 8, "fontWeight": "normal", "color": "#333"},
    "data": {"values": []}, "mark": {"type": "rule"}, "encoding": {}
   },
   {
    "spacing": 4,
    "vconcat": [
     {"width": 1, "height": 1, "view": {"stroke": null}, "data": {"values": []}, "mark": {"type": "rule"}, "encoding": {}},
     {
      "title": {"text": ["Auto-correlation function (ACF) plots of", "residuals for Change-point, ET-GP, and EIV-IGP models"], "fontSize": 9, "lineHeight": 12, "anchor": "middle", "offset": 9},
      "spacing": 11,
      "vconcat": [
       {
        "data": {"name": "acfNJ"},
        "facet": {
         "row": {"field": "state", "type": "nominal", "header": {"title": null, "labelOrient": "right", "labelAngle": -90, "labelFontSize": 10, "labelColor": "#111", "labelPadding": 0}},
         "column": {"field": "model", "type": "nominal", "sort": ["Change-point", "ET-GP", "EIV-IGP"], "header": {"title": null, "labelFontSize": 8, "labelColor": "#555", "labelPadding": 4}}
        },
        "spacing": {"column": 9},
        "spec": {
         "width": 92, "height": 124,
         "resolve": {"axis": {"x": "independent", "y": "independent"}},
         "layer": [
          {"mark": {"type": "rule", "color": "#ffb0b0", "strokeWidth": 1.5},
           "encoding": {
            "x": {"field": "lag", "type": "quantitative", "scale": {"domain": [0, 20], "nice": false}, "axis": {"title": null, "labels": false, "grid": true, "gridColor": "#e6e6e6", "values": [0, 2, 4, 6, 8, 10, 12, 14, 16, 18, 20]}},
            "y": {"field": "acf", "type": "quantitative", "scale": {"domain": [-0.4, 1], "nice": false}, "axis": {"title": "Residual Autocorrelation", "grid": true, "gridColor": "#e6e6e6", "values": [-0.4, -0.2, 0, 0.2, 0.4, 0.6, 0.8, 1], "format": "~g"}},
            "y2": {"datum": 0}
           }},
          {"transform": [{"filter": "datum.lag == 0"}], "mark": {"type": "rule", "color": "#000", "strokeWidth": 0.8}, "encoding": {"y": {"datum": 0, "axis": null}}},
          {"transform": [{"filter": "datum.lag == 0"}], "mark": {"type": "rule", "color": "#8a8af0", "strokeWidth": 1.3}, "encoding": {"y": {"datum": 0.177, "axis": null}}},
          {"transform": [{"filter": "datum.lag == 0"}], "mark": {"type": "rule", "color": "#8a8af0", "strokeWidth": 1.3}, "encoding": {"y": {"datum": -0.177, "axis": null}}},
          {"mark": {"type": "point", "filled": true, "color": "#ff1a1a", "size": 8, "opacity": 1}, "encoding": {"x": {"field": "lag", "type": "quantitative", "axis": null}, "y": {"field": "acf", "type": "quantitative", "axis": null}}}
         ]
        }
       },
       {
        "data": {"name": "acfNC"},
        "facet": {
         "row": {"field": "state", "type": "nominal", "header": {"title": null, "labelOrient": "right", "labelAngle": -90, "labelFontSize": 10, "labelColor": "#111", "labelPadding": 0}},
         "column": {"field": "model", "type": "nominal", "sort": ["Change-point", "ET-GP", "EIV-IGP"], "header": {"title": null, "labels": false}}
        },
        "spacing": {"column": 9},
        "spec": {
         "width": 92, "height": 117,
         "resolve": {"axis": {"x": "independent", "y": "independent"}},
         "layer": [
          {"mark": {"type": "rule", "color": "#ffb0b0", "strokeWidth": 1.5},
           "encoding": {
            "x": {"field": "lag", "type": "quantitative", "scale": {"domain": [0, 20], "nice": false}, "axis": {"title": "Lag", "grid": true, "gridColor": "#e6e6e6", "values": [0, 2, 4, 6, 8, 10, 12, 14, 16, 18, 20], "labelExpr": "datum.value % 4 == 0 ? datum.label : ''", "labelFontSize": 8.5, "titleFontSize": 9, "labelPadding": 2, "titlePadding": 1}},
            "y": {"field": "acf", "type": "quantitative", "scale": {"domain": [-0.2, 1], "nice": false}, "axis": {"title": "Residual Autocorrelation", "grid": true, "gridColor": "#e6e6e6", "values": [-0.2, 0, 0.2, 0.4, 0.6, 0.8, 1], "format": "~g"}},
            "y2": {"datum": 0}
           }},
          {"transform": [{"filter": "datum.lag == 0"}], "mark": {"type": "rule", "color": "#000", "strokeWidth": 0.8}, "encoding": {"y": {"datum": 0, "axis": null}}},
          {"transform": [{"filter": "datum.lag == 0"}], "mark": {"type": "rule", "color": "#8a8af0", "strokeWidth": 1.3}, "encoding": {"y": {"datum": 0.195, "axis": null}}},
          {"transform": [{"filter": "datum.lag == 0"}], "mark": {"type": "rule", "color": "#8a8af0", "strokeWidth": 1.3}, "encoding": {"y": {"datum": -0.195, "axis": null}}},
          {"mark": {"type": "point", "filled": true, "color": "#ff1a1a", "size": 8, "opacity": 1}, "encoding": {"x": {"field": "lag", "type": "quantitative", "axis": null}, "y": {"field": "acf", "type": "quantitative", "axis": null}}}
         ]
        }
       }
      ]
     }
    ]
   }
  ]
 }
]
}
